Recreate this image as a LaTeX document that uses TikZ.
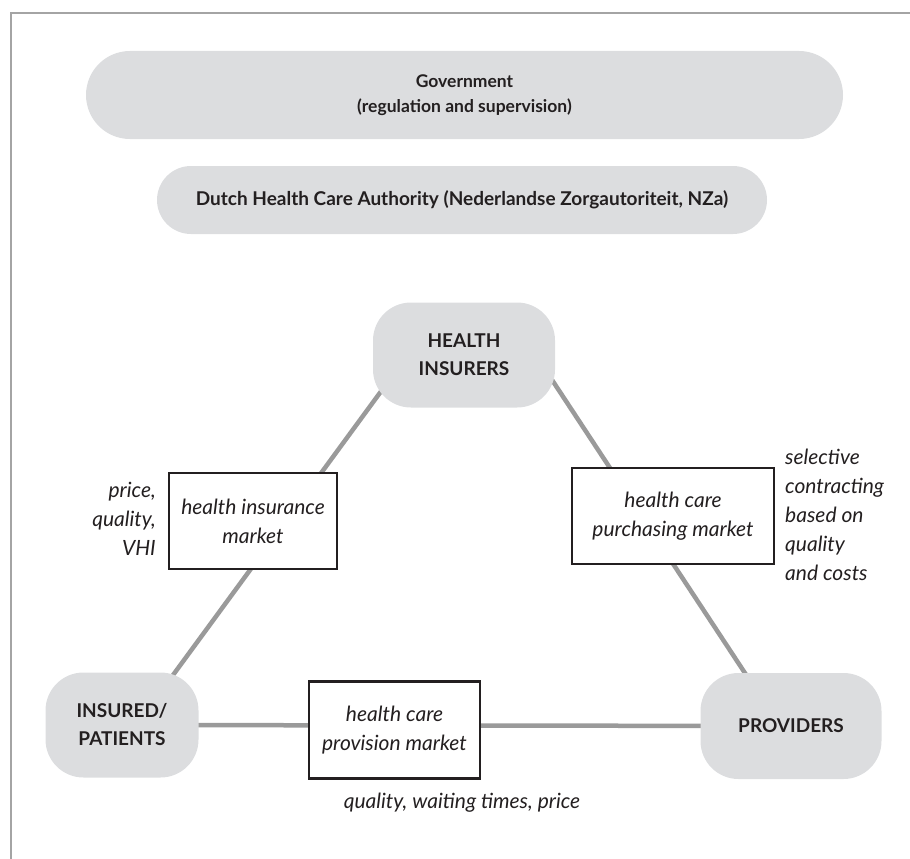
\documentclass[tikz,border=0pt]{standalone}
\usepackage{fontspec}
\setmainfont{Lato}
\usetikzlibrary{backgrounds}
\definecolor{pillgray}{HTML}{DCDDDF}
\definecolor{linegray}{HTML}{9A9A9A}
\definecolor{ink}{HTML}{231F20}
\tikzset{
  pill/.style={fill=pillgray, draw=none, inner sep=0pt, align=center, text=ink,
    font=\bfseries\fontsize{19}{28}\selectfont},
  market/.style={draw=ink, line width=2.5pt, fill=white, inner sep=0pt, align=center,
    text=ink, font=\itshape\fontsize{21}{29}\selectfont},
  note/.style={inner sep=0pt, text=ink, font=\itshape\fontsize{21}{29}\selectfont},
  link/.style={draw=linegray, line width=4.5pt},
  frameline/.style={draw=linegray!90, line width=2.7pt}
}
\begin{document}
\begin{tikzpicture}[x=1pt,y=-1pt]
\useasboundingbox (0,0) rectangle (910,859);
\coordinate (fb) at (11,859);
\coordinate (fc) at (11,13);
\coordinate (fr) at (910,13);
\draw[frameline] (fb) -- (fc) -- (fr);

\node[pill, minimum width=757pt, minimum height=88pt, rounded corners=44pt,
  font=\bfseries\fontsize{17.5}{25}\selectfont] (gov) at (464.5,95)
  {Government\\(regulation and supervision)};
\node[pill, minimum width=610pt, minimum height=68pt, rounded corners=34pt,
  font=\bfseries\fontsize{19}{25}\selectfont] (nza) at (462,200)
  {Dutch Health Care Authority (Nederlandse Zorgautoriteit, NZa)};

\node[pill, minimum width=182pt, minimum height=105pt, rounded corners=38pt] (hi) at (464,355)
  {HEALTH\\INSURERS};
\node[pill, minimum width=153pt, minimum height=105pt, rounded corners=38pt] (ins) at (122,725)
  {INSURED/\\PATIENTS};
\node[pill, minimum width=181pt, minimum height=106pt, rounded corners=38pt] (prov) at (791,726)
  {PROVIDERS};

\node[market, minimum width=168pt, minimum height=96pt] (him) at (253,521)
  {health insurance\\market};
\node[market, minimum width=202pt, minimum height=96pt] (hcp) at (673,516)
  {health care\\purchasing market};
\node[market, minimum width=171pt, minimum height=97pt] (hpm) at (394.5,730)
  {health care\\provision market};

\node[note, align=right, anchor=east] (n1) at (156,519) {price,\\quality,\\VHI};
\node[note, align=left, anchor=west] (n2) at (785,515)
  {selective\\contracting\\based on\\quality\\and costs};
\node[note] (n3) at (462,803) {quality, waiting times, price};

\coordinate (l1a) at (404,360);
\coordinate (l1b) at (154,701);
\coordinate (l2a) at (533,351);
\coordinate (l2b) at (764,702);
\begin{scope}[on background layer]
  \draw[link] (l1a) -- (l1b);
  \draw[link] (l2a) -- (l2b);
  \draw[link] (ins.center) -- (prov.center);
\end{scope}
\end{tikzpicture}
\end{document}
